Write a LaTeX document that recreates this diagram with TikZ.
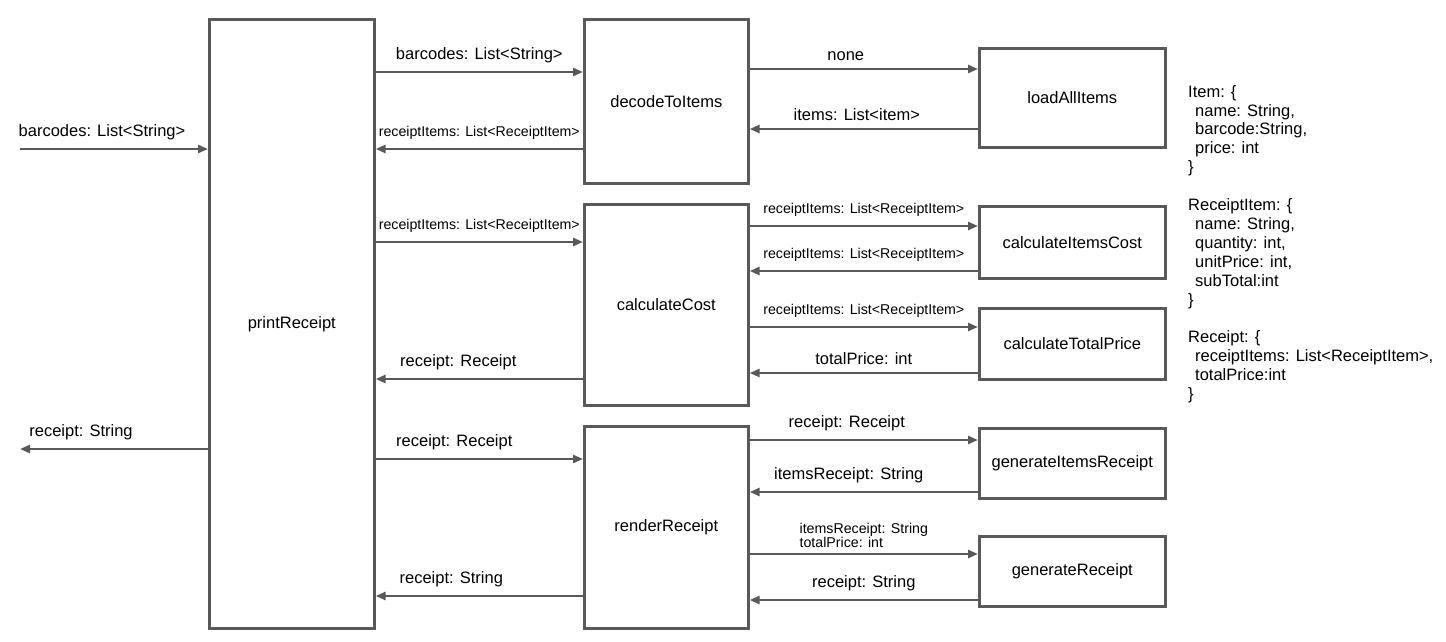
\documentclass[tikz,border=0pt]{standalone}
\usepackage{fontspec}
\setmainfont{Liberation Sans}
\usetikzlibrary{arrows.meta}
\definecolor{linegray}{HTML}{595959}
\tikzset{
  fnbox/.style={draw=linegray, line width=2.6pt, anchor=north west, inner sep=0pt,
    font=\fontsize{16.5}{19}\selectfont},
  flow/.style={draw=linegray, line width=2.5pt, -{Triangle[length=10pt,width=8pt]}},
  lbl/.style={font=\fontsize{16.5}{19}\selectfont, inner sep=0pt, above=7.5pt},
  slbl/.style={font=\fontsize{14.2}{14.5}\selectfont, inner sep=0pt, above=8.5pt, align=left},
}
\newcommand{\ind}{\hspace*{7pt}}

\begin{document}
\begin{tikzpicture}[x=1pt,y=-1pt]
\useasboundingbox (0,0) rectangle (1446,642);

\node[fnbox, minimum width=165, minimum height=609] (printReceipt) at (208,18) {printReceipt};
\node[fnbox, minimum width=164, minimum height=164] (decodeToItems) at (583,18) {decodeToItems};
\node[fnbox, minimum width=164, minimum height=201] (calculateCost) at (583,203) {calculateCost};
\node[fnbox, minimum width=164, minimum height=202] (renderReceipt) at (583,425) {renderReceipt};
\node[fnbox, minimum width=186, minimum height=99] (loadAllItems) at (978,47) {loadAllItems};
\node[fnbox, minimum width=186, minimum height=72] (calculateItemsCost) at (978,205) {calculateItemsCost};
\node[fnbox, minimum width=186, minimum height=71] (calculateTotalPrice) at (978,307) {calculateTotalPrice};
\node[fnbox, minimum width=186, minimum height=70] (generateItemsReceipt) at (978,427) {generateItemsReceipt};
\node[fnbox, minimum width=186, minimum height=70] (generateReceipt) at (978,535) {generateReceipt};

\coordinate (input) at (20,149);
\coordinate (output) at (20,449);
\draw[flow] (input) -- node[lbl, xshift=-12]{barcodes: List<String>} (printReceipt.west |- input);
\draw[flow] (printReceipt.west |- output) -- node[lbl, xshift=-33]{receipt: String} (output);

\draw[flow] (printReceipt.east |- 0,72) -- node[lbl]{barcodes: List<String>} (decodeToItems.west |- 0,72);
\draw[flow] (decodeToItems.west |- 0,149) -- node[slbl]{receiptItems: List<ReceiptItem>} (printReceipt.east |- 0,149);
\draw[flow] (decodeToItems.east |- 0,69) -- node[lbl, xshift=-18]{none} (loadAllItems.west |- 0,69);
\draw[flow] (loadAllItems.west |- 0,129) -- node[lbl, xshift=-7]{items: List<item>} (decodeToItems.east |- 0,129);

\draw[flow] (printReceipt.east |- 0,242) -- node[slbl]{receiptItems: List<ReceiptItem>} (calculateCost.west |- 0,242);
\draw[flow] (calculateCost.west |- 0,379) -- node[lbl, xshift=-21]{receipt: Receipt} (printReceipt.east |- 0,379);
\draw[flow] (calculateCost.east |- 0,226) -- node[slbl]{receiptItems: List<ReceiptItem>} (calculateItemsCost.west |- 0,226);
\draw[flow] (calculateItemsCost.west |- 0,271) -- node[slbl]{receiptItems: List<ReceiptItem>} (calculateCost.east |- 0,271);
\draw[flow] (calculateCost.east |- 0,327) -- node[slbl]{receiptItems: List<ReceiptItem>} (calculateTotalPrice.west |- 0,327);
\draw[flow] (calculateTotalPrice.west |- 0,373) -- node[lbl]{totalPrice: int} (calculateCost.east |- 0,373);

\draw[flow] (printReceipt.east |- 0,459) -- node[lbl, xshift=-25]{receipt: Receipt} (renderReceipt.west |- 0,459);
\draw[flow] (renderReceipt.west |- 0,596) -- node[lbl, xshift=-28]{receipt: String} (printReceipt.east |- 0,596);
\draw[flow] (renderReceipt.east |- 0,440) -- node[lbl, xshift=-17]{receipt: Receipt} (generateItemsReceipt.west |- 0,440);
\draw[flow] (generateItemsReceipt.west |- 0,492) -- node[lbl, xshift=-15]{itemsReceipt: String} (renderReceipt.east |- 0,492);
\draw[flow] (renderReceipt.east |- 0,554) -- node[slbl, above=-3.5pt]{itemsReceipt: String\\totalPrice: int} (generateReceipt.west |- 0,554);
\draw[flow] (generateReceipt.west |- 0,600) -- node[lbl]{receipt: String} (renderReceipt.east |- 0,600);

\node[anchor=north west, inner sep=0pt, align=left, font=\fontsize{16.5}{18.9}\selectfont] (types) at (1188,85)
  {Item: \{\\
   \ind name: String,\\
   \ind barcode:String,\\
   \ind price: int\\
   \}\\[18.9pt]
   ReceiptItem: \{\\
   \ind name: String,\\
   \ind quantity: int,\\
   \ind unitPrice: int,\\
   \ind subTotal:int\\
   \}\\[18.9pt]
   Receipt: \{\\
   \ind receiptItems: List<ReceiptItem>,\\
   \ind totalPrice:int\\
   \}};
\end{tikzpicture}
\end{document}
